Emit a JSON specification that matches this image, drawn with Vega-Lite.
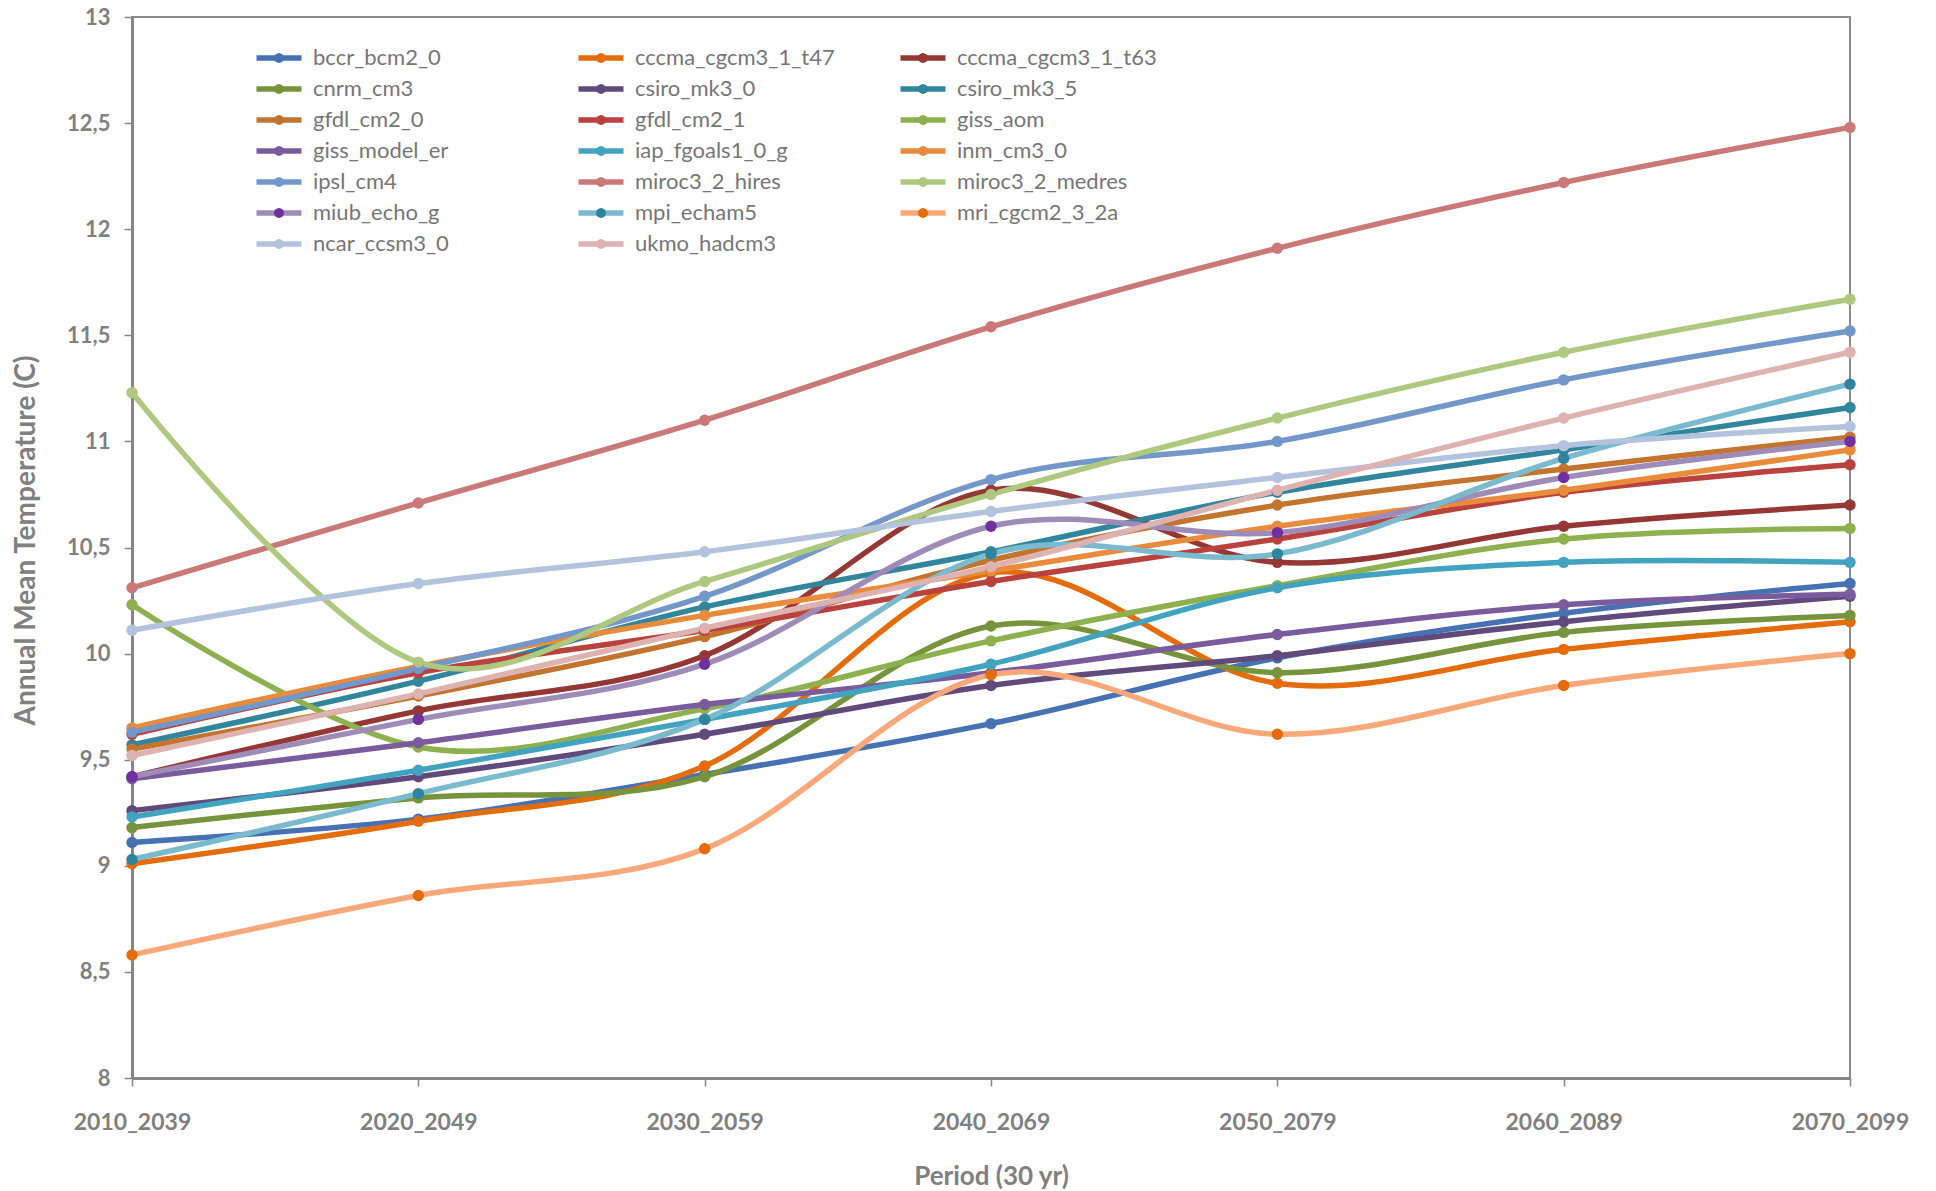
{
  "$schema": "https://vega.github.io/schema/vega-lite/v6.json",
  "width": 1718,
  "height": 1061,
  "autosize": {"type": "none"},
  "padding": {"left": 132, "top": 17, "right": 86, "bottom": 113},
  "background": "white",
  "config": {
    "view": {"stroke": "#8c8c8c", "strokeWidth": 2},
    "font": "Lato"
  },
  "data": {
    "values": [
      {"model": "bccr_bcm2_0", "2010_2039": 9.11, "2020_2049": 9.22, "2030_2059": 9.43, "2040_2069": 9.67, "2050_2079": 9.98, "2060_2089": 10.19, "2070_2099": 10.33},
      {"model": "cccma_cgcm3_1_t47", "2010_2039": 9.01, "2020_2049": 9.21, "2030_2059": 9.47, "2040_2069": 10.38, "2050_2079": 9.86, "2060_2089": 10.02, "2070_2099": 10.15},
      {"model": "cccma_cgcm3_1_t63", "2010_2039": 9.42, "2020_2049": 9.73, "2030_2059": 9.99, "2040_2069": 10.77, "2050_2079": 10.43, "2060_2089": 10.6, "2070_2099": 10.7},
      {"model": "cnrm_cm3", "2010_2039": 9.18, "2020_2049": 9.32, "2030_2059": 9.42, "2040_2069": 10.13, "2050_2079": 9.91, "2060_2089": 10.1, "2070_2099": 10.18},
      {"model": "csiro_mk3_0", "2010_2039": 9.26, "2020_2049": 9.42, "2030_2059": 9.62, "2040_2069": 9.85, "2050_2079": 9.99, "2060_2089": 10.15, "2070_2099": 10.27},
      {"model": "csiro_mk3_5", "2010_2039": 9.57, "2020_2049": 9.87, "2030_2059": 10.22, "2040_2069": 10.48, "2050_2079": 10.76, "2060_2089": 10.96, "2070_2099": 11.16},
      {"model": "gfdl_cm2_0", "2010_2039": 9.55, "2020_2049": 9.8, "2030_2059": 10.08, "2040_2069": 10.44, "2050_2079": 10.7, "2060_2089": 10.87, "2070_2099": 11.02},
      {"model": "gfdl_cm2_1", "2010_2039": 9.62, "2020_2049": 9.91, "2030_2059": 10.11, "2040_2069": 10.34, "2050_2079": 10.54, "2060_2089": 10.76, "2070_2099": 10.89},
      {"model": "giss_aom", "2010_2039": 10.23, "2020_2049": 9.56, "2030_2059": 9.74, "2040_2069": 10.06, "2050_2079": 10.32, "2060_2089": 10.54, "2070_2099": 10.59},
      {"model": "giss_model_er", "2010_2039": 9.41, "2020_2049": 9.58, "2030_2059": 9.76, "2040_2069": 9.91, "2050_2079": 10.09, "2060_2089": 10.23, "2070_2099": 10.28},
      {"model": "iap_fgoals1_0_g", "2010_2039": 9.23, "2020_2049": 9.45, "2030_2059": 9.69, "2040_2069": 9.95, "2050_2079": 10.31, "2060_2089": 10.43, "2070_2099": 10.43},
      {"model": "inm_cm3_0", "2010_2039": 9.65, "2020_2049": 9.94, "2030_2059": 10.18, "2040_2069": 10.39, "2050_2079": 10.6, "2060_2089": 10.77, "2070_2099": 10.96},
      {"model": "ipsl_cm4", "2010_2039": 9.63, "2020_2049": 9.93, "2030_2059": 10.27, "2040_2069": 10.82, "2050_2079": 11.0, "2060_2089": 11.29, "2070_2099": 11.52},
      {"model": "miroc3_2_hires", "2010_2039": 10.31, "2020_2049": 10.71, "2030_2059": 11.1, "2040_2069": 11.54, "2050_2079": 11.91, "2060_2089": 12.22, "2070_2099": 12.48},
      {"model": "miroc3_2_medres", "2010_2039": 11.23, "2020_2049": 9.96, "2030_2059": 10.34, "2040_2069": 10.75, "2050_2079": 11.11, "2060_2089": 11.42, "2070_2099": 11.67},
      {"model": "miub_echo_g", "2010_2039": 9.42, "2020_2049": 9.69, "2030_2059": 9.95, "2040_2069": 10.6, "2050_2079": 10.57, "2060_2089": 10.83, "2070_2099": 11.0},
      {"model": "mpi_echam5", "2010_2039": 9.03, "2020_2049": 9.34, "2030_2059": 9.69, "2040_2069": 10.47, "2050_2079": 10.47, "2060_2089": 10.92, "2070_2099": 11.27},
      {"model": "mri_cgcm2_3_2a", "2010_2039": 8.58, "2020_2049": 8.86, "2030_2059": 9.08, "2040_2069": 9.9, "2050_2079": 9.62, "2060_2089": 9.85, "2070_2099": 10.0},
      {"model": "ncar_ccsm3_0", "2010_2039": 10.11, "2020_2049": 10.33, "2030_2059": 10.48, "2040_2069": 10.67, "2050_2079": 10.83, "2060_2089": 10.98, "2070_2099": 11.07},
      {"model": "ukmo_hadcm3", "2010_2039": 9.52, "2020_2049": 9.81, "2030_2059": 10.12, "2040_2069": 10.41, "2050_2079": 10.77, "2060_2089": 11.11, "2070_2099": 11.42}
    ]
  },
  "transform": [
    {"fold": ["2010_2039", "2020_2049", "2030_2059", "2040_2069", "2050_2079", "2060_2089", "2070_2099"], "as": ["period", "temp"]}
  ],
  "encoding": {
    "x": {
      "field": "period",
      "type": "ordinal",
      "title": "Period (30 yr)",
      "sort": ["2010_2039", "2020_2049", "2030_2059", "2040_2069", "2050_2079", "2060_2089", "2070_2099"],
      "scale": {"type": "point", "padding": 0},
      "axis": {
        "grid": false,
        "labelAngle": 0,
        "domainColor": "#868686",
        "domainWidth": 3,
        "tickColor": "#868686",
        "tickWidth": 1.5,
        "tickSize": 8,
        "labelFont": "Lato",
        "labelFontWeight": "bold",
        "labelFontSize": 23,
        "labelColor": "#808080",
        "labelPadding": 25,
        "titleFont": "Lato",
        "titleFontSize": 26,
        "titleFontWeight": "bold",
        "titleColor": "#808080",
        "titlePadding": 29
      }
    },
    "y": {
      "field": "temp",
      "type": "quantitative",
      "title": "Annual Mean Temperature (C)",
      "scale": {"domain": [8, 13], "zero": false, "nice": false},
      "axis": {
        "grid": false,
        "values": [8, 8.5, 9, 9.5, 10, 10.5, 11, 11.5, 12, 12.5, 13],
        "format": ".1~f",
        "labelExpr": "replace(datum.label, '.', ',')",
        "domainColor": "#868686",
        "domainWidth": 3,
        "tickColor": "#868686",
        "tickWidth": 1.5,
        "tickSize": 8,
        "labelFont": "Lato",
        "labelFontWeight": "bold",
        "labelFontSize": 22,
        "labelColor": "#808080",
        "labelPadding": 14,
        "titleFont": "Lato",
        "titleFontSize": 28,
        "titleFontWeight": "bold",
        "titleColor": "#808080",
        "titlePadding": 26,
        "titleY": 523
      }
    }
  },
  "layer": [
    {
      "mark": {"type": "line", "interpolate": "cardinal", "strokeWidth": 5.5, "strokeCap": "round", "strokeJoin": "round"},
      "encoding": {
        "stroke": {
          "field": "model",
          "type": "nominal",
          "scale": {
            "domain": ["bccr_bcm2_0", "cccma_cgcm3_1_t47", "cccma_cgcm3_1_t63", "cnrm_cm3", "csiro_mk3_0", "csiro_mk3_5", "gfdl_cm2_0", "gfdl_cm2_1", "giss_aom", "giss_model_er", "iap_fgoals1_0_g", "inm_cm3_0", "ipsl_cm4", "miroc3_2_hires", "miroc3_2_medres", "miub_echo_g", "mpi_echam5", "mri_cgcm2_3_2a", "ncar_ccsm3_0", "ukmo_hadcm3"],
            "range": ["#4672B4", "#E46C0A", "#953735", "#77933C", "#604A7B", "#31859C", "#C3742F", "#B9423F", "#8EB04F", "#7A5C9E", "#41A3C0", "#EA8B3B", "#7397C9", "#CB7978", "#AEC97F", "#9E8BB8", "#7ABACE", "#F8A879", "#B3C3DE", "#DDB2B1"]
          },
          "legend": {
            "title": null,
            "orient": "none",
            "direction": "horizontal",
            "legendX": 136,
            "legendY": 30,
            "columns": 3,
            "gridAlign": "all",
            "columnPadding": 54,
            "rowPadding": -1,
            "padding": 0,
            "symbolType": "M-4.5,0L4.5,0M0,-1M0,1",
            "symbolSize": 100,
            "symbolStrokeWidth": 5.5,
            "symbolOpacity": 1,
            "labelFont": "Lato",
            "labelFontSize": 22,
            "labelColor": "#767676",
            "labelOffset": 23,
            "labelLimit": 400,
            "zindex": 1
          }
        }
      }
    },
    {
      "mark": {"type": "point", "filled": true, "size": 130, "opacity": 1, "strokeWidth": 0},
      "encoding": {
        "fill": {
          "field": "model",
          "type": "nominal",
          "scale": {
            "domain": ["bccr_bcm2_0", "cccma_cgcm3_1_t47", "cccma_cgcm3_1_t63", "cnrm_cm3", "csiro_mk3_0", "csiro_mk3_5", "gfdl_cm2_0", "gfdl_cm2_1", "giss_aom", "giss_model_er", "iap_fgoals1_0_g", "inm_cm3_0", "ipsl_cm4", "miroc3_2_hires", "miroc3_2_medres", "miub_echo_g", "mpi_echam5", "mri_cgcm2_3_2a", "ncar_ccsm3_0", "ukmo_hadcm3", ""],
            "range": ["#4672B4", "#E46C0A", "#953735", "#77933C", "#604A7B", "#31859C", "#C3742F", "#B9423F", "#8EB04F", "#7A5C9E", "#41A3C0", "#EA8B3B", "#7397C9", "#CB7978", "#AEC97F", "#7030A0", "#2E849C", "#E46C0A", "#B3C3DE", "#DDB2B1", "transparent"]
          },
          "legend": {
            "title": null,
            "orient": "none",
            "direction": "horizontal",
            "legendX": 136,
            "legendY": 30,
            "columns": 3,
            "gridAlign": "all",
            "columnPadding": 54,
            "rowPadding": -1,
            "padding": 0,
            "symbolType": "M-4.5,0L4.5,0M0,-1M0,1M1,0L0.924,0.383L0.707,0.707L0.383,0.924L0,1L-0.383,0.924L-0.707,0.707L-0.924,0.383L-1,0L-0.924,-0.383L-0.707,-0.707L-0.383,-0.924L0,-1L0.383,-0.924L0.707,-0.707L0.924,-0.383Z",
            "symbolSize": 100,
            "symbolStrokeWidth": 5.5,
            "symbolStrokeColor": "transparent",
            "symbolOpacity": 1,
            "labelFont": "Lato",
            "labelFontSize": 22,
            "labelColor": "#767676",
            "labelOpacity": 0,
            "labelOffset": 23,
            "labelLimit": 400,
            "zindex": 2
          }
        }
      }
    }
  ]
}
